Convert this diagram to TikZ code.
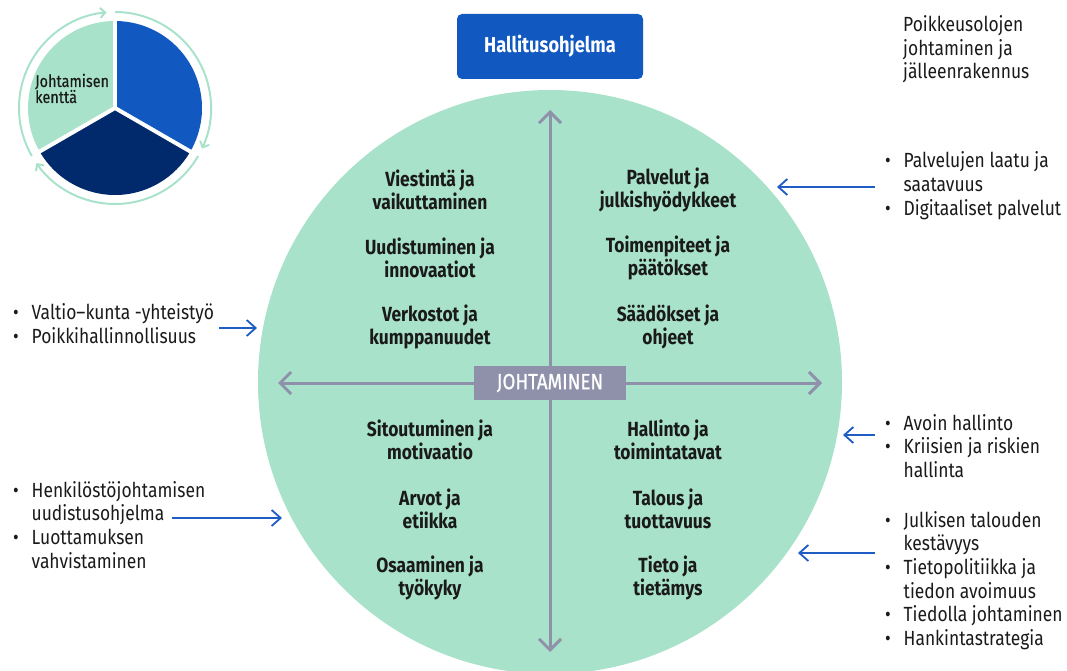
\documentclass[tikz,border=0pt]{standalone}
\usepackage{fontspec}
\setmainfont{Fira Sans}[FakeStretch=0.85]
\usetikzlibrary{arrows.meta}
\definecolor{mint}{HTML}{A9E2CB}
\definecolor{govblue}{HTML}{1159C0}
\definecolor{navy}{HTML}{002A6C}
\definecolor{axisgray}{HTML}{8F91AB}
\definecolor{linkblue}{HTML}{1F5CC4}
\definecolor{ink}{HTML}{1A1A1A}
\newcommand{\bul}{\makebox[18.5pt][l]{\textbullet}}
\newcommand{\ind}{\hspace*{18.5pt}}

\begin{document}
\begin{tikzpicture}[x=1pt,y=1pt,
  topic/.style={align=center, font=\bfseries\fontsize{20.5}{23}\selectfont, text=ink, inner sep=0pt},
  % lists are placed by the baseline of their last line
  itemlist/.style={align=left, anchor=base west, font=\fontsize{20.5}{23.7}\selectfont, text=ink, inner sep=0pt},
  axisarrow/.style={draw=axisgray, line width=3pt, -{Straight Barb[length=11pt,width=22pt]}},
  link/.style={draw=linkblue, line width=1.8pt, -{Straight Barb[length=9pt,width=16pt]}},
  ringarrow/.style={draw=mint, line width=2pt, -{Straight Barb[length=5pt,width=10pt]}},
]
\useasboundingbox (0,0) rectangle (1067,670);
\clip (0,0) rectangle (1067,670);

% ---- small cycle pie, top left ----
\coordinate (pc) at (115,562);
\fill[mint] (pc) -- ++(90:87pt) arc[start angle=90,end angle=210,radius=87pt] -- cycle;
\fill[navy] (pc) -- ++(210:87pt) arc[start angle=210,end angle=330,radius=87pt] -- cycle;
\fill[govblue] (pc) -- ++(-30:87pt) arc[start angle=-30,end angle=90,radius=87pt] -- cycle;
\foreach \a in {90,210,330} \draw[white, line width=4pt] (pc) -- ++(\a:90pt);
\draw[ringarrow] (pc) ++(210:96pt) arc[start angle=210,end angle=95,radius=96pt];
\draw[ringarrow] (pc) ++(90:96pt) arc[start angle=90,end angle=-25,radius=96pt];
\draw[ringarrow] (pc) ++(-30:96pt) arc[start angle=-30,end angle=-145,radius=96pt];
\node[itemlist, font=\fontsize{17}{16}\selectfont\addfontfeature{FakeBold=0.4}] (field) at (35,567) {Johtamisen\\kenttä};

% ---- programme box ----
\node[fill=govblue, rounded corners=5pt, minimum width=186pt, minimum height=65pt,
      text=white, font=\bfseries\fontsize{21.5}{24}\selectfont] (prog) at (550,623.5) {Hallitusohjelma};

% ---- main circle with axes ----
\node[circle, fill=mint, minimum size=584pt, inner sep=0pt] (circ) at (550,288) {};
\node[fill=axisgray, minimum width=152pt, minimum height=34pt, inner sep=0pt,
      text=white, font=\fontsize{22}{24}\selectfont\addfontfeature{FakeBold=0.8}] (lead) at (550,287) {JOHTAMINEN};
\coordinate (axtop) at (550,560);
\coordinate (axbot) at (550,18);
\coordinate (axleft) at (278,287);
\coordinate (axright) at (822,287);
\draw[axisarrow] (lead.north) -- (axtop);
\draw[axisarrow] (lead.south) -- (axbot);
\draw[axisarrow] (lead.west) -- (axleft);
\draw[axisarrow] (lead.east) -- (axright);

% ---- topics ----
\node[topic] (t1) at (430,480.5) {Viestintä ja\\vaikuttaminen};
\node[topic] (t2) at (430,412) {Uudistuminen ja\\innovaatiot};
\node[topic] (t3) at (430,343.5) {Verkostot ja\\kumppanuudet};
\node[topic] (t4) at (430,230) {Sitoutuminen ja\\motivaatio};
\node[topic] (t5) at (430,161.5) {Arvot ja\\etiikka};
\node[topic] (t6) at (430,92.5) {Osaaminen ja\\työkyky};
\node[topic] (t7) at (668,480.5) {Palvelut ja\\julkishyödykkeet};
\node[topic] (t8) at (668,412) {Toimenpiteet ja\\päätökset};
\node[topic] (t9) at (668,343.5) {Säädökset ja\\ohjeet};
\node[topic] (t10) at (668,230) {Hallinto ja\\toimintatavat};
\node[topic] (t11) at (668,161.5) {Talous ja\\tuottavuus};
\node[topic] (t12) at (668,92.5) {Tieto ja\\tietämys};

% ---- side lists ----
\node[itemlist] (crisis) at (903,591) {Poikkeusolojen\\johtaminen ja\\jälleenrakennus};
\node[itemlist] (l1) at (885,454.6) {\bul Palvelujen laatu ja\\\ind saatavuus\\\bul Digitaaliset palvelut};
\node[itemlist] (l2) at (885,192.6) {\bul Avoin hallinto\\\bul Kriisien ja riskien\\\ind hallinta};
\node[itemlist] (l3) at (885,24.5) {\bul Julkisen talouden\\\ind kestävyys\\\bul Tietopolitiikka ja\\\ind tiedon avoimuus\\\bul Tiedolla johtaminen\\\bul Hankintastrategia};
\node[itemlist] (l4) at (13,326.3) {\bul Valtio–kunta -yhteistyö\\\bul Poikkihallinnollisuus};
\node[itemlist] (l5) at (13,101.9) {\bul Henkilöstöjohtamisen\\\ind uudistusohjelma\\\bul Luottamuksen\\\ind vahvistaminen};

% ---- links into the circle ----
\coordinate (a1s) at (875,483);  \coordinate (a1e) at (777,483);
\coordinate (a2s) at (875,235);  \coordinate (a2e) at (843,235);
\coordinate (a3s) at (875,117);  \coordinate (a3e) at (798,117);
\coordinate (a4s) at (219,342);  \coordinate (a4e) at (257,342);
\coordinate (a5s) at (172,152);  \coordinate (a5e) at (282,152);
\draw[link] (a1s) -- (a1e);
\draw[link] (a2s) -- (a2e);
\draw[link] (a3s) -- (a3e);
\draw[link] (a4s) -- (a4e);
\draw[link] (a5s) -- (a5e);
\end{tikzpicture}
\end{document}
